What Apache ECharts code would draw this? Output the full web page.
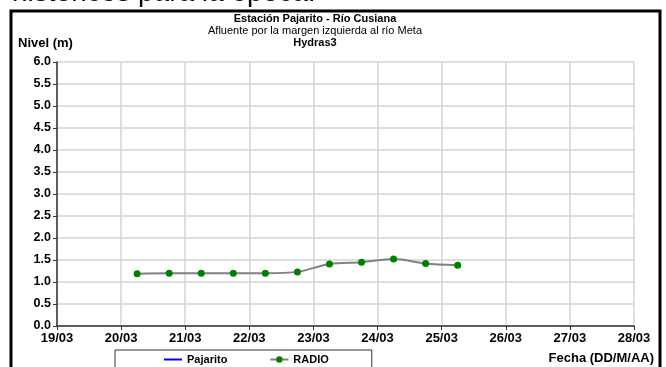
<!DOCTYPE html>
<html><head><meta charset="utf-8">
<script src="https://cdn.jsdelivr.net/npm/echarts@6/dist/echarts.min.js"></script>
<style>html,body{margin:0;padding:0;background:#fff}#c{width:666px;height:367px}</style>
</head><body><div id="c"></div>
<script>
const times = ['20/03 06:00','20/03 18:00','21/03 06:00','21/03 18:00','22/03 06:00','22/03 18:00','23/03 06:00','23/03 18:00','24/03 06:00','24/03 18:00','25/03 06:00'];
const radioValues = [1.19,1.20,1.20,1.20,1.20,1.23,1.41,1.45,1.52,1.42,1.38];
const pajaritoValues = [];
const xTickLabels = ['19/03','20/03','21/03','22/03','23/03','24/03','25/03','26/03','27/03','28/03'];
const yTicks = [0,0.5,1,1.5,2,2.5,3,3.5,4,4.5,5,5.5,6];

function toDays(s){ // days since 19/03 00:00
  const [d,t]=s.split(' '); const day=parseInt(d.split('/')[0],10); const [h,m]=t.split(':').map(Number);
  return (day-19)+(h+m/60)/24;
}
const radioData = times.map((t,i)=>[toDays(t), radioValues[i]]);
const F = 'Liberation Sans, Arial, sans-serif';
const chart = echarts.init(document.getElementById('c'));
chart.setOption({
  animation:false,
  textStyle:{fontFamily:F},
  grid:{left:57,right:32,top:62,bottom:41,containLabel:false,show:false},
  xAxis:{type:'value',min:0,max:xTickLabels.length-1,interval:1,
    axisLine:{lineStyle:{color:'#333',width:1.5}},
    axisTick:{show:true,length:4,lineStyle:{color:'#333'}},
    axisLabel:{color:'#000',fontWeight:'bold',fontSize:13,margin:6,fontFamily:F,formatter:v=>xTickLabels[Math.round(v)]||''},
    splitLine:{show:true,lineStyle:{color:'#d4d4d4',width:1.5}}},
  yAxis:{type:'value',min:yTicks[0],max:yTicks[yTicks.length-1],interval:0.5,
    axisLine:{show:true,lineStyle:{color:'#333',width:1.5}},
    axisTick:{show:true,length:4,lineStyle:{color:'#333'}},
    axisLabel:{color:'#000',fontWeight:'bold',fontSize:12.5,margin:6,fontFamily:F,formatter:v=>v.toFixed(1)},
    splitLine:{show:true,lineStyle:{color:'#d4d4d4',width:1.5}}},
  legend:{left:115,top:350,padding:[4,43,8,48],itemGap:42,itemWidth:18,itemHeight:8,
    borderColor:'#333',borderWidth:1,
    textStyle:{fontWeight:'bold',fontSize:11,color:'#000',fontFamily:F},
    data:[{name:'Pajarito',itemStyle:{opacity:0}},'RADIO']},
  graphic:[
    {type:'rect',shape:{x:11,y:11,width:649,height:380},style:{fill:'none',stroke:'#000',lineWidth:3},z:-1},
    {type:'text',x:12,y:7,style:{text:'históricos para la época.',font:'28px '+F,fill:'#000',textVerticalAlign:'bottom'}},
    {type:'text',x:315,y:19,style:{text:'Estación Pajarito - Río Cusiana',font:'bold 11px '+F,fill:'#000',textAlign:'center',textVerticalAlign:'middle'}},
    {type:'text',x:315,y:31,style:{text:'Afluente por la margen izquierda al río Meta',font:'11px '+F,fill:'#000',textAlign:'center',textVerticalAlign:'middle'}},
    {type:'text',x:315,y:43,style:{text:'Hydras3',font:'bold 11px '+F,fill:'#000',textAlign:'center',textVerticalAlign:'middle'}},
    {type:'text',x:18,y:43,style:{text:'Nivel (m)',font:'bold 13px '+F,fill:'#000',textVerticalAlign:'middle'}},
    {type:'text',x:654,y:358,style:{text:'Fecha (DD/M/AA)',font:'bold 13px '+F,fill:'#000',textAlign:'right',textVerticalAlign:'middle'}}
  ],
  series:[
    {name:'Pajarito',type:'line',data:pajaritoValues,color:'#0000ff',symbol:'none',itemStyle:{color:'#0000ff'},lineStyle:{color:'#0000ff',width:2}},
    {name:'RADIO',type:'line',data:radioData,smooth:0.3,color:'#008000',symbol:'circle',symbolSize:7,
      itemStyle:{color:'#008000'},lineStyle:{color:'#808080',width:2}}
  ]
});
</script></body></html>
